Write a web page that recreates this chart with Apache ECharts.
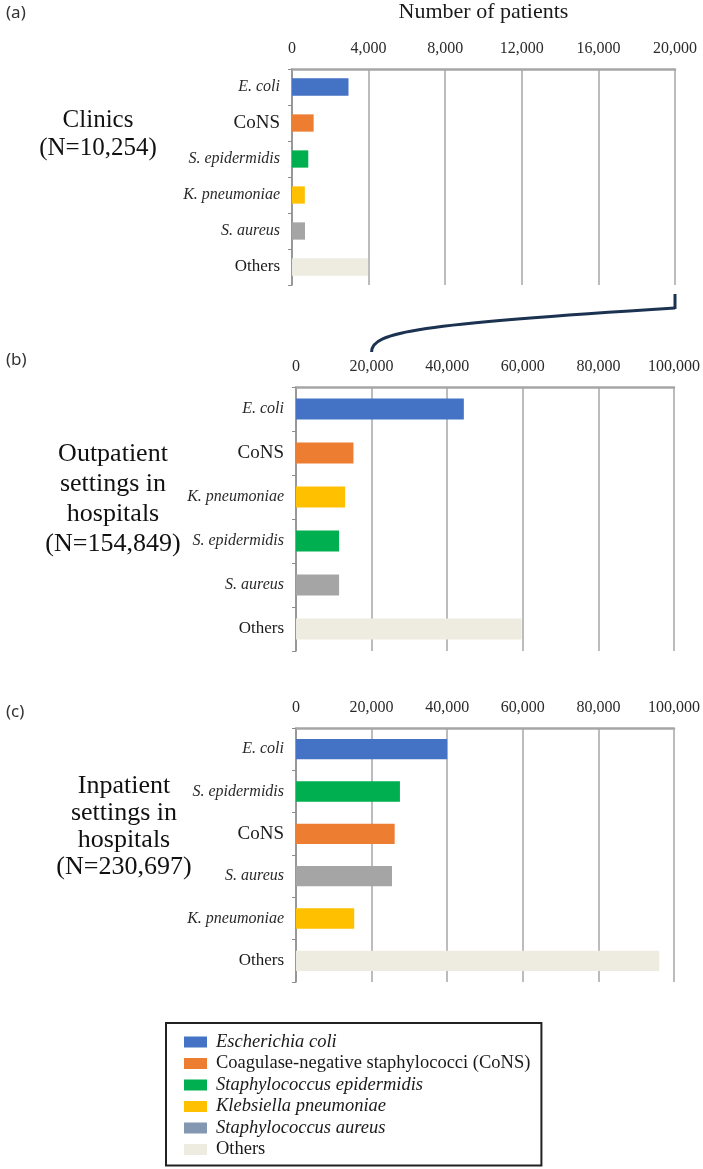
<!DOCTYPE html>
<html>
<head>
<meta charset="utf-8">
<script src="https://cdn.jsdelivr.net/npm/echarts@6/dist/echarts.min.js"></script>
<style>html,body{margin:0;padding:0;background:#fff}#c{width:703px;height:1169px}</style>
</head>
<body>
<div id="c"></div>
<script>
// ---- data ----
const catsA = ['E. coli', 'CoNS', 'S. epidermidis', 'K. pneumoniae', 'S. aureus', 'Others'];
const valsA = [2950, 1130, 850, 670, 680, 3970];
const catsB = ['E. coli', 'CoNS', 'K. pneumoniae', 'S. epidermidis', 'S. aureus', 'Others'];
const valsB = [44400, 15200, 13000, 11400, 11400, 59700];
const catsC = ['E. coli', 'S. epidermidis', 'CoNS', 'S. aureus', 'K. pneumoniae', 'Others'];
const valsC = [40000, 27500, 26100, 25400, 15400, 96100];
const xMaxes = [20000, 100000, 100000];
const xIntervals = [4000, 20000, 20000];
const panelTags = ['(a)', '(b)', '(c)'];
const groupTitles = ['Clinics\n(N=10,254)', 'Outpatient\nsettings in\nhospitals\n(N=154,849)', 'Inpatient\nsettings in\nhospitals\n(N=230,697)'];
const shortNames = ['E. coli', 'CoNS', 'S. epidermidis', 'K. pneumoniae', 'S. aureus', 'Others'];
const legendNames = ['Escherichia coli', 'Coagulase-negative staphylococci (CoNS)', 'Staphylococcus epidermidis', 'Klebsiella pneumoniae', 'Staphylococcus aureus', 'Others'];
const legendItalic = [true, false, true, true, true, false];
const axisTitle = 'Number of patients';

// ---- style ----
const barColors = ['#4472c4', '#ed7d31', '#00b050', '#ffc000', '#a5a5a5', '#eeece1'];
const legendColors = ['#4472c4', '#ed7d31', '#00b050', '#ffc000', '#8497b0', '#eeece1'];
const SERIF = '"Liberation Serif", "Times New Roman", serif';
const gridBoxes = [
  {left: 292, right: 28, top: 59, height: 226},
  {left: 296, right: 24, top: 387, height: 264},
  {left: 296, right: 24, top: 728, height: 254}
];
const panels = [[catsA, valsA], [catsB, valsB], [catsC, valsC]];

const chart = echarts.init(document.getElementById('c'), null, {renderer: 'canvas'});

const fmt = v => v.toLocaleString('en-US');
function catLabel(v) {
  if (v === 'CoNS') return '{c|CoNS}';
  if (v === 'Others') return '{o|Others}';
  return '{i|' + v + '}';
}

const grid = gridBoxes.map(g => Object.assign({containLabel: false}, g));
const xAxis = panels.map((p, i) => ({
  type: 'value', gridIndex: i, position: 'top', min: 0, max: xMaxes[i], interval: xIntervals[i],
  name: i === 0 ? axisTitle : '', nameLocation: 'middle', nameGap: 46,
  nameTextStyle: {fontFamily: SERIF, fontSize: 22, color: '#1a1a1a'},
  axisLine: {show: true, lineStyle: {color: '#a6a6a6', width: 2.5}},
  axisTick: {show: false},
  axisLabel: {formatter: fmt, fontFamily: SERIF, fontSize: 16, color: '#2a2a2a', margin: 12},
  splitLine: {show: true, lineStyle: {color: '#a6a6a6', width: 1.5}}
}));
const yAxis = panels.map((p, i) => ({
  type: 'category', gridIndex: i, data: p[0], inverse: true,
  axisLine: {show: true, lineStyle: {color: '#8c8c8c', width: 1.5}},
  axisTick: {show: true, length: 4, lineStyle: {color: '#8c8c8c'}},
  axisLabel: {
    formatter: catLabel, margin: 12,
    rich: {
      i: {fontFamily: SERIF, fontSize: 16, fontStyle: 'italic', color: '#2a2a2a'},
      c: {fontFamily: SERIF, fontSize: 19, color: '#1a1a1a'},
      o: {fontFamily: SERIF, fontSize: 17, color: '#1a1a1a'}
    }
  }
}));

const series = [];
panels.forEach((p, i) => {
  shortNames.forEach((s, k) => {
    series.push({
      type: 'bar', name: legendNames[k], xAxisIndex: i, yAxisIndex: i, stack: 'panel' + i,
      barWidth: '48%', itemStyle: {color: barColors[k]}, silent: true,
      data: p[0].map((c, j) => (c === s ? p[1][j] : '-'))
    });
  });
});

const legend = {
  show: true, orient: 'vertical', left: 166, top: 1023, selectedMode: false,
  backgroundColor: '#fff', borderColor: '#222', borderWidth: 2,
  padding: [9, 11, 6, 18], itemGap: 1.5, itemWidth: 23, itemHeight: 11,
  textStyle: {fontFamily: SERIF, fontSize: 18.5, color: '#1a1a1a', lineHeight: 20, padding: [0, 0, 0, 4]},
  data: legendNames.map((n, k) => ({
    name: n, icon: 'rect', itemStyle: {color: legendColors[k]},
    textStyle: {fontStyle: legendItalic[k] ? 'italic' : 'normal'}
  }))
};

chart.setOption({
  animation: false, grid, xAxis, yAxis, series, legend
});

// ---- annotations (positions from axes) ----
const tagY = [13, 360, 712];
const titleCenters = [[98, 134], [113, 499], [124, 827]];
const titleSizes = [25, 26, 26];
const titleLH = [28, 30, 27];
const graphic = [];
panelTags.forEach((t, i) => {
  graphic.push({type: 'text', x: 6, y: tagY[i], style: {text: t, font: '17px "Noto Sans", sans-serif', fill: '#333', verticalAlign: 'middle', textVerticalAlign: 'middle'}});
  graphic.push({type: 'text', x: titleCenters[i][0], y: titleCenters[i][1], style: {
    text: groupTitles[i], font: titleSizes[i] + 'px ' + SERIF, fill: '#111', lineHeight: titleLH[i],
    align: 'center', textAlign: 'center', verticalAlign: 'middle', textVerticalAlign: 'middle'}});
});
const xs = chart.convertToPixel({xAxisIndex: 1}, 20000);
const xe = chart.convertToPixel({xAxisIndex: 0}, xMaxes[0]);
const yTopA = gridBoxes[0].top + gridBoxes[0].height;
const yStart = gridBoxes[1].top - 35;
const yEnd = yTopA + 23;
graphic.push({type: 'bezierCurve', shape: {x1: xs, y1: yStart, cpx1: xs, cpy1: yStart - 20, cpx2: xs + 45, cpy2: yEnd + 16, x2: xe, y2: yEnd},
  style: {stroke: '#1b3350', lineWidth: 3, fill: null}});
graphic.push({type: 'line', shape: {x1: xe, y1: yEnd + 1, x2: xe, y2: yTopA + 9}, style: {stroke: '#1b3350', lineWidth: 3}});
chart.setOption({graphic});
</script>
</body>
</html>
